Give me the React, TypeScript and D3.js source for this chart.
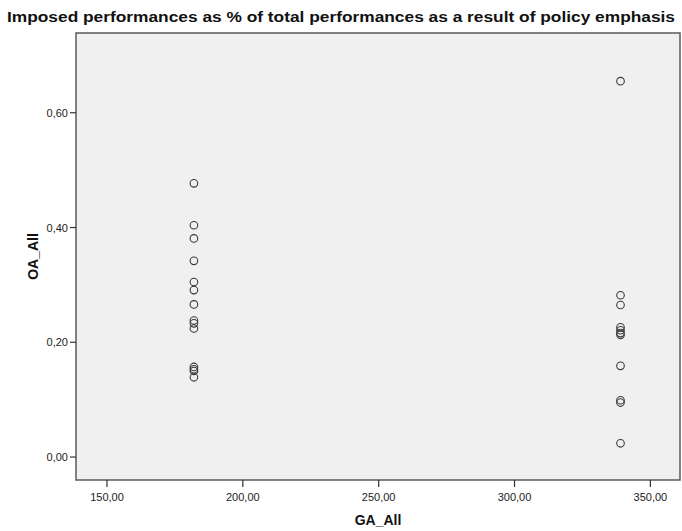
import React from 'react';
import * as d3 from 'd3';

const title = 'Imposed performances as % of total performances as a result of policy emphasis';
const xLabel = 'GA_All';
const yLabel = 'OA_All';

// GA_All values (two groups), OA_All values per group
const gaGroups = [182, 339];
const oaAt182 = [0.477, 0.404, 0.381, 0.342, 0.305, 0.291, 0.266, 0.238, 0.233, 0.224, 0.157, 0.153, 0.150, 0.139];
const oaAt339 = [0.655, 0.282, 0.265, 0.226, 0.221, 0.216, 0.213, 0.159, 0.099, 0.095, 0.024];

const xTicks = [150, 200, 250, 300, 350];
const yTicks = [0, 0.2, 0.4, 0.6];

const fmt = (v: number, d: number) => v.toFixed(d).replace('.', ',');

export default function App() {
  const width = 682, height = 531;
  const left = 76, right = 680, top = 33, bottom = 480;

  const x = d3.scaleLinear().domain([138.6, 360.9]).range([left, right]);
  const y = d3.scaleLinear().domain([-0.04, 0.739]).range([bottom, top]);

  const points = [
    ...oaAt182.map(v => ({ ga: gaGroups[0], oa: v })),
    ...oaAt339.map(v => ({ ga: gaGroups[1], oa: v })),
  ];

  const font = 'Arial, "Liberation Sans", sans-serif';

  return (
    <svg width={width} height={height} style={{ position: 'absolute', left: 0, top: 0, background: '#fff' }}>
      <text x={width / 2} y={22} textAnchor="middle" fontFamily={font} fontWeight="bold" fontSize={14.5}
        textLength={668} lengthAdjust="spacingAndGlyphs" fill="#111">{title}</text>

      <rect x={left} y={top} width={right - left} height={bottom - top} fill="#f0f0f0" stroke="#5a5a5a" strokeWidth={1.5} />

      {yTicks.map(t => (
        <g key={t}>
          <line x1={left - 6} x2={left} y1={y(t)} y2={y(t)} stroke="#333" strokeWidth={1.2} />
          <text x={left - 8} y={y(t) + 4} textAnchor="end" fontFamily={font} fontSize={11} fill="#222">{fmt(t, 2)}</text>
        </g>
      ))}
      {xTicks.map(t => (
        <g key={t}>
          <line x1={x(t)} x2={x(t)} y1={bottom} y2={bottom + 7} stroke="#333" strokeWidth={1.2} />
          <text x={x(t)} y={bottom + 21} textAnchor="middle" fontFamily={font} fontSize={11} fill="#222">{fmt(t, 2)}</text>
        </g>
      ))}

      <text x={(left + right) / 2} y={525} textAnchor="middle" fontFamily={font} fontWeight="bold" fontSize={14} fill="#111">{xLabel}</text>
      <text transform={`translate(38,${(top + bottom) / 2}) rotate(-90)`} textAnchor="middle" fontFamily={font}
        fontWeight="bold" fontSize={14} fill="#111">{yLabel}</text>

      {points.map((p, i) => (
        <circle key={i} cx={x(p.ga)} cy={y(p.oa)} r={3.8} fill="none" stroke="#3a3a3a" strokeWidth={1.1} />
      ))}
    </svg>
  );
}
